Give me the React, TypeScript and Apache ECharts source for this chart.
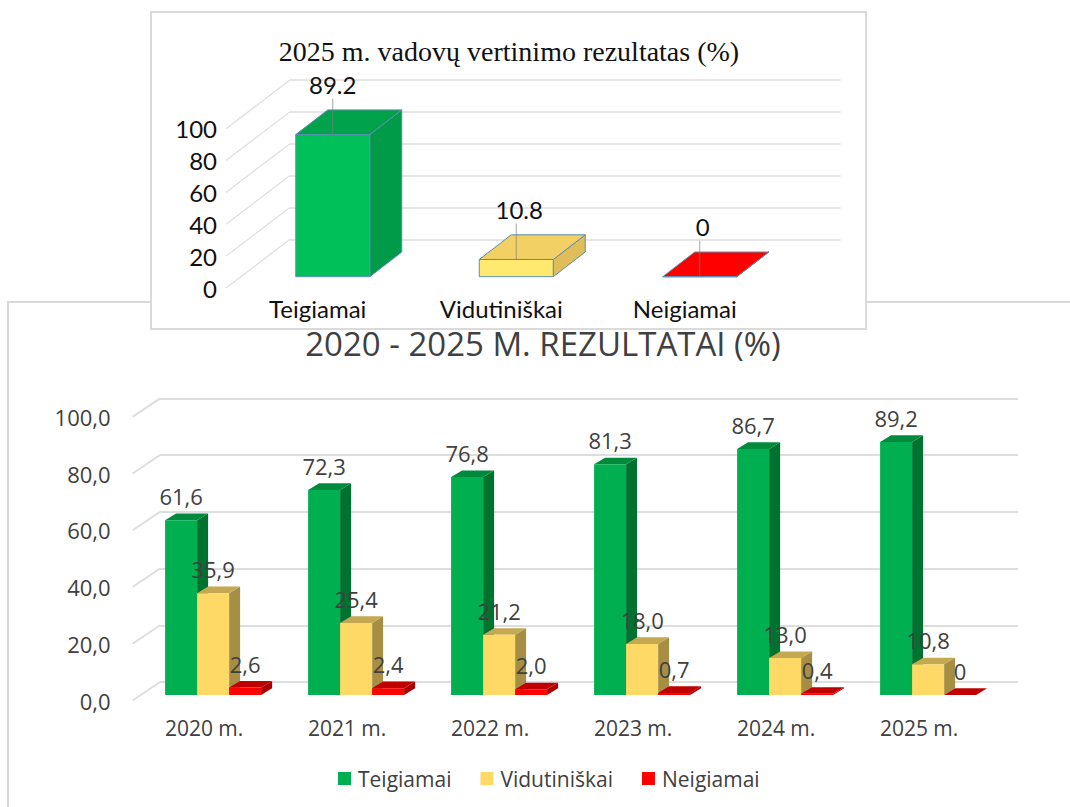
import React, { useEffect, useRef } from "react";
import * as echarts from "echarts";

const years = ["2020 m.", "2021 m.", "2022 m.", "2023 m.", "2024 m.", "2025 m."];
const teigiamai = [61.6, 72.3, 76.8, 81.3, 86.7, 89.2];
const vidutiniskai = [35.9, 25.4, 21.2, 18.0, 13.0, 10.8];
const neigiamai = [2.6, 2.4, 2.0, 0.7, 0.4, 0];
const valueTicks = [0, 20, 40, 60, 80, 100];

const topCategories = ["Teigiamai", "Vidutiniškai", "Neigiamai"];
const topValues = [89.2, 10.8, 0];

const bottomTitle = "2020 - 2025 M. REZULTATAI (%)";
const topTitle = "2025 m. vadovų vertinimo rezultatas (%)";

const SANS = "'Open Sans', sans-serif";
const LATO = "Lato, sans-serif";
const GREY_LINE = "#DEDEDE";

function wallSeries(xAxisIndex: number, yAxisIndex: number, dx: number, dy: number, lineWidth: number) {
  return {
    type: "custom",
    xAxisIndex,
    yAxisIndex,
    silent: true,
    z: 1,
    data: valueTicks.map((v) => [0, v]),
    encode: { x: 0, y: 1 },
    renderItem: (params: any, api: any) => {
      const x = params.coordSys.x;
      const y = api.coord([0, api.value(1)])[1];
      return {
        type: "line",
        shape: { x1: x, y1: y, x2: x + dx, y2: y - dy },
        style: { stroke: GREY_LINE, lineWidth },
      };
    },
  };
}

function formatBottom(v: number) {
  return v === 0 ? "0" : v.toFixed(1).replace(".", ",");
}

function bottomBars(name: string, values: number[], slot: number, c: any) {
  const barW = 32;
  const off = 9;
  const lift = 5.5;
  const sx = 11;
  const sy = 6.7;
  return {
    name,
    type: "custom",
    xAxisIndex: 1,
    yAxisIndex: 1,
    silent: true,
    z: 3,
    itemStyle: { color: c.front },
    data: values.map((v, i) => [i, v]),
    encode: { x: 0, y: 1 },
    renderItem: (_p: any, api: any) => {
      const val = api.value(1);
      const p = api.coord([api.value(0), val]);
      const base = api.coord([api.value(0), 0]);
      const x0 = p[0] + off + (slot - 1.5) * barW;
      const x1 = x0 + barW;
      const yt = p[1] - lift;
      const yb = base[1] - lift;
      return {
        type: "group",
        children: [
          { type: "polygon", shape: { points: [[x1, yt], [x1 + sx, yt - sy], [x1 + sx, yb - sy], [x1, yb]] }, style: { fill: c.side } },
          { type: "polygon", shape: { points: [[x0, yt], [x0 + sx, yt - sy], [x1 + sx, yt - sy], [x1, yt]] }, style: { fill: c.top } },
          { type: "rect", shape: { x: x0, y: yt, width: barW, height: yb - yt }, style: { fill: c.front } },
          {
            type: "text",
            z2: 50,
            style: {
              text: formatBottom(val),
              x: (x0 + x1) / 2,
              y: yt - 24,
              align: "center",
              verticalAlign: "middle",
              fill: "#404040",
              fontSize: 22,
              fontFamily: SANS,
            },
          },
        ],
      };
    },
  };
}

const topColors = [
  { front: "#00C05A", side: "#009B48", top: "#00A24C" },
  { front: "#FFE96E", side: "#DFBD58", top: "#F3D063" },
  { front: "#FF0000", side: "#E00000", top: "#FF0000" },
];

function topBars() {
  const barW = 74;
  const off = 15;
  const lift = 11.3;
  const sx = 32;
  const sy = 24.7;
  const edge = "#5B8FB0";
  return {
    name: "Rezultatas",
    type: "custom",
    xAxisIndex: 3,
    yAxisIndex: 3,
    silent: true,
    z: 3,
    data: topValues.map((v, i) => [i, v]),
    encode: { x: 0, y: 1 },
    renderItem: (_p: any, api: any) => {
      const idx = api.value(0);
      const val = api.value(1);
      const p = api.coord([idx, val]);
      const base = api.coord([idx, 0]);
      const x0 = p[0] + off - barW / 2;
      const x1 = x0 + barW;
      const yt = p[1] - lift;
      const yb = base[1] - lift;
      const c = topColors[idx];
      const stroke = { stroke: edge, lineWidth: 1 };
      return {
        type: "group",
        children: [
          { type: "polygon", shape: { points: [[x1, yt], [x1 + sx, yt - sy], [x1 + sx, yb - sy], [x1, yb]] }, style: { fill: c.side, ...stroke } },
          { type: "polygon", shape: { points: [[x0, yt], [x0 + sx, yt - sy], [x1 + sx, yt - sy], [x1, yt]] }, style: { fill: c.top, ...stroke } },
          { type: "rect", shape: { x: x0, y: yt, width: barW, height: yb - yt }, style: { fill: c.front, ...stroke } },
          { type: "line", shape: { x1: (x0 + x1) / 2, y1: yt - 36, x2: (x0 + x1) / 2, y2: yt }, style: { stroke: "#7F7F7F", lineWidth: 1, opacity: 0.7 } },
          {
            type: "text",
            style: {
              text: String(val),
              x: (x0 + x1) / 2 + (idx === 0 ? 0 : 3),
              y: yt - 50,
              align: "center",
              verticalAlign: "middle",
              fill: "#111111",
              fontSize: 24,
              fontFamily: LATO,
            },
          },
        ],
      };
    },
  };
}

const hiddenAxisBits = { axisLine: { show: false }, axisTick: { show: false } };

export default function App() {
  const ref = useRef<HTMLDivElement>(null);
  useEffect(() => {
    document.body.style.margin = "0";
    const chart = echarts.init(ref.current!, undefined, { renderer: "svg" });
    chart.setOption({
      animation: false,
      backgroundColor: "#ffffff",
      title: [
        {
          text: bottomTitle,
          left: 538,
          top: 322,
          textAlign: "center",
          textStyle: { fontFamily: SANS, fontWeight: "normal", fontSize: 33, color: "#404040" },
        },
        {
          text: topTitle,
          left: 504,
          top: 32,
          textAlign: "center",
          textStyle: { fontFamily: "'Liberation Serif', serif", fontWeight: "normal", fontSize: 28, color: "#111111" },
        },
      ],
      graphic: {
        elements: [
          {
            type: "polyline",
            z: -3,
            silent: true,
            shape: { points: [[8, 807], [8, 302], [1070, 302]] },
            style: { stroke: "#D9D9D9", lineWidth: 2, fill: "none" },
          },
          {
            type: "rect",
            z: -2,
            silent: true,
            shape: { x: 151, y: 12, width: 715, height: 317 },
            style: { fill: "#ffffff", stroke: "#DADADA", lineWidth: 2 },
          },
        ],
      },
      legend: {
        left: 333,
        top: 763,
        itemWidth: 13,
        itemHeight: 13,
        itemGap: 29,
        icon: "rect",
        selectedMode: false,
        data: [
          { name: "Teigiamai", itemStyle: { color: "#00B050" } },
          { name: "Vidutiniškai", itemStyle: { color: "#FFD966" } },
          { name: "Neigiamai", itemStyle: { color: "#FF0000" } },
        ],
        textStyle: { fontFamily: SANS, fontSize: 21, color: "#404040", padding: [0, 0, 0, 2] },
      },
      grid: [
        { left: 160, top: 398.3, width: 858, height: 283.7 },
        { left: 132.6, top: 416.8, width: 858, height: 283.7 },
        { left: 290, top: 80, width: 550.5, height: 159.3 },
        { left: 226, top: 128.7, width: 550.5, height: 159.3 },
      ],
      xAxis: [
        { type: "category", gridIndex: 0, data: years, axisLabel: { show: false }, ...hiddenAxisBits },
        {
          type: "category",
          gridIndex: 1,
          data: years,
          ...hiddenAxisBits,
          axisLabel: { margin: 17, fontFamily: SANS, fontSize: 21, color: "#404040" },
        },
        { type: "category", gridIndex: 2, data: topCategories, axisLabel: { show: false }, ...hiddenAxisBits },
        {
          type: "category",
          gridIndex: 3,
          data: topCategories,
          ...hiddenAxisBits,
          axisLabel: { margin: 8, fontFamily: LATO, fontSize: 24, color: "#111111" },
        },
      ],
      yAxis: [
        {
          type: "value",
          gridIndex: 0,
          min: 0,
          max: 100,
          interval: 20,
          ...hiddenAxisBits,
          axisLabel: { show: false },
          splitLine: { show: true, lineStyle: { color: GREY_LINE, width: 2 } },
        },
        {
          type: "value",
          gridIndex: 1,
          min: 0,
          max: 100,
          interval: 20,
          ...hiddenAxisBits,
          splitLine: { show: false },
          axisLabel: {
            margin: 22,
            fontFamily: SANS,
            fontSize: 22,
            color: "#404040",
            formatter: (v: number) => v.toFixed(1).replace(".", ","),
          },
        },
        {
          type: "value",
          gridIndex: 2,
          min: 0,
          max: 100,
          interval: 20,
          ...hiddenAxisBits,
          axisLabel: { show: false },
          splitLine: { show: true, lineStyle: { color: GREY_LINE, width: 1.5 } },
        },
        {
          type: "value",
          gridIndex: 3,
          min: 0,
          max: 100,
          interval: 20,
          ...hiddenAxisBits,
          splitLine: { show: false },
          axisLabel: { margin: 9, fontFamily: LATO, fontSize: 24, color: "#111111" },
        },
      ],
      series: [
        wallSeries(1, 1, 27.5, 18.5, 2),
        wallSeries(3, 3, 64, 48.7, 1.2),
        bottomBars("Teigiamai", teigiamai, 0, { front: "#00B050", side: "#00722F", top: "#008A3C" }),
        bottomBars("Vidutiniškai", vidutiniskai, 1, { front: "#FFD966", side: "#A68F45", top: "#C4A952" }),
        bottomBars("Neigiamai", neigiamai, 2, { front: "#FF0000", side: "#A80000", top: "#C00000" }),
        topBars(),
      ],
    });
    return () => chart.dispose();
  }, []);
  return <div ref={ref} style={{ position: "absolute", left: 0, top: 0, width: 1070, height: 807 }} />;
}
